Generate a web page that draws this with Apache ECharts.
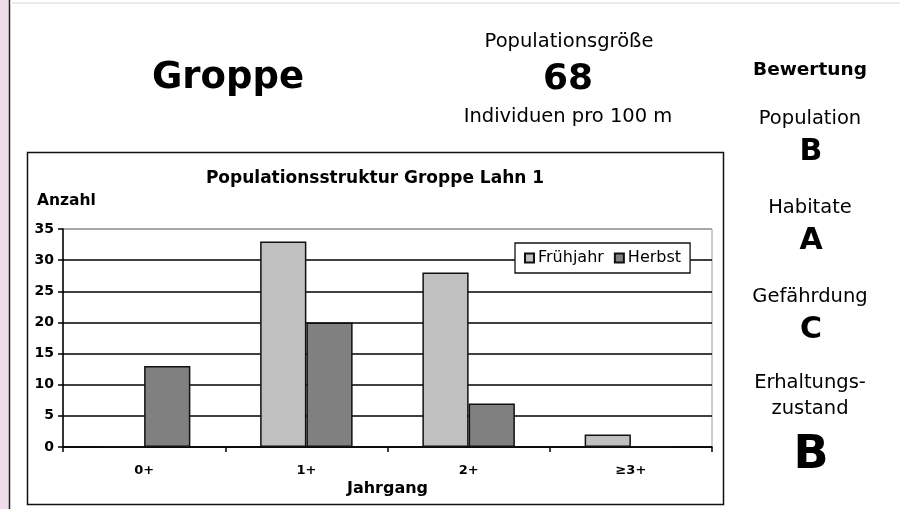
<!DOCTYPE html>
<html>
<head>
<meta charset="utf-8">
<script src="https://cdn.jsdelivr.net/npm/echarts@6/dist/echarts.min.js"></script>
<style>html,body{margin:0;padding:0;background:#fff}#c{width:900px;height:509px}</style>
</head>
<body>
<div id="c"></div>
<script>
// ---- data ----
const categories = ['0+', '1+', '2+', '≥3+'];
const fruehjahr = [0, 33, 28, 2];
const herbst = [13, 20, 7, 0];
const seriesNames = ['Frühjahr', 'Herbst'];
const yTicks = { min: 0, max: 35, interval: 5 };
const chartTitle = 'Populationsstruktur Groppe Lahn 1';
const yName = 'Anzahl';
const xName = 'Jahrgang';
const species = 'Groppe';
const sizeLabel = 'Populationsgröße';
const sizeValue = '68';
const sizeUnit = 'Individuen pro 100 m';
const ratings = [
  ['Population', 'B'],
  ['Habitate', 'A'],
  ['Gefährdung', 'C'],
  ['Erhaltungs-\nzustand', 'B']
];

const FF = '"DejaVu Sans", "Liberation Sans", Arial, sans-serif';
const chart = echarts.init(document.getElementById('c'), null, { renderer: 'canvas' });

function txt(text, x, y, size, weight, align, lh) {
  return {
    type: 'text', silent: true,
    style: {
      text: text, x: x, y: y, fill: '#000',
      fontSize: size, fontWeight: weight || 'normal', fontFamily: FF,
      textAlign: align || 'center', textVerticalAlign: 'middle', lineHeight: lh || size * 1.3
    }
  };
}

const graphics = [
  // left pink strip and border line
  { type: 'rect', shape: { x: 0, y: 0, width: 9, height: 509 }, style: { fill: '#efdbe9' }, silent: true },
  { type: 'line', shape: { x1: 9.5, y1: 0, x2: 9.5, y2: 509 }, style: { stroke: '#222', lineWidth: 1.5 }, silent: true },
  { type: 'line', shape: { x1: 10, y1: 3, x2: 900, y2: 3 }, style: { stroke: '#ececec', lineWidth: 2 }, silent: true },
  // chart frame
  { type: 'rect', z: -1, shape: { x: 27.5, y: 152.5, width: 696, height: 352 }, style: { fill: '#fff', stroke: '#111', lineWidth: 1.5 }, silent: true },
  txt(species, 228, 78, 37, 'bold'),
  txt(sizeLabel, 569, 42, 19.5),
  txt(sizeValue, 568, 80, 36, 'bold'),
  txt(sizeUnit, 568, 117, 19.5),
  txt('Bewertung', 810, 70, 18.5, 'bold'),
  txt(ratings[0][0], 810, 119, 19.5),
  txt(ratings[0][1], 811, 152, 30, 'bold'),
  txt(ratings[1][0], 810, 208, 19.5),
  txt(ratings[1][1], 811, 241, 30, 'bold'),
  txt(ratings[2][0], 810, 297, 19.5),
  txt(ratings[2][1], 811, 330, 30, 'bold'),
  txt(ratings[3][0], 810, 396, 19.5, 'normal', 'center', 26),
  txt(ratings[3][1], 811, 456, 46, 'bold'),
  txt(chartTitle, 375, 179, 17, 'bold'),
  txt(yName, 37, 201, 15.5, 'bold', 'left')
];

const option = {
  animation: false,
  backgroundColor: '#fff',
  textStyle: { fontFamily: FF },
  graphic: graphics,
  legend: {
    data: seriesNames,
    left: 515, top: 243,
    orient: 'horizontal',
    backgroundColor: '#fff', borderColor: '#111', borderWidth: 1.3,
    padding: [7, 9], itemGap: 10, itemWidth: 9, itemHeight: 9, icon: 'rect',
    textStyle: { fontSize: 16, color: '#000', fontFamily: FF, padding: [0, 0, 0, -1] }
  },
  grid: {
    left: 63, right: 188, top: 229, bottom: 62,
    show: true, borderColor: '#9a9a9a', borderWidth: 1, backgroundColor: '#fff'
  },
  xAxis: {
    type: 'category', data: categories,
    axisLine: { lineStyle: { color: '#000', width: 1.5 } },
    axisTick: { show: true, length: 5, lineStyle: { color: '#000', width: 1.5 } },
    axisLabel: { color: '#000', fontWeight: 'bold', fontSize: 13, margin: 17, fontFamily: FF },
    name: xName, nameLocation: 'middle', nameGap: 34,
    nameTextStyle: { color: '#000', fontWeight: 'bold', fontSize: 16, fontFamily: FF }
  },
  yAxis: {
    type: 'value', min: yTicks.min, max: yTicks.max, interval: yTicks.interval,
    axisLine: { show: true, lineStyle: { color: '#000', width: 1.5 } },
    axisTick: { show: true, length: 5, lineStyle: { color: '#000', width: 1.5 } },
    axisLabel: { color: '#000', fontWeight: 'bold', fontSize: 14, margin: 9, fontFamily: FF },
    splitLine: { show: true, lineStyle: { color: ['#000', '#000', '#000', '#000', '#000', '#000', '#000', '#9a9a9a'], width: 1.5 } }
  },
  series: [
    {
      name: seriesNames[0], type: 'bar', data: fruehjahr,
      barGap: '0%', barCategoryGap: '43%',
      itemStyle: { color: '#c0c0c0', borderColor: '#111', borderWidth: 1.5 }
    },
    {
      name: seriesNames[1], type: 'bar', data: herbst,
      barGap: '0%', barCategoryGap: '43%',
      itemStyle: { color: '#808080', borderColor: '#111', borderWidth: 1.5 }
    }
  ]
};
chart.setOption(option);
</script>
</body>
</html>
